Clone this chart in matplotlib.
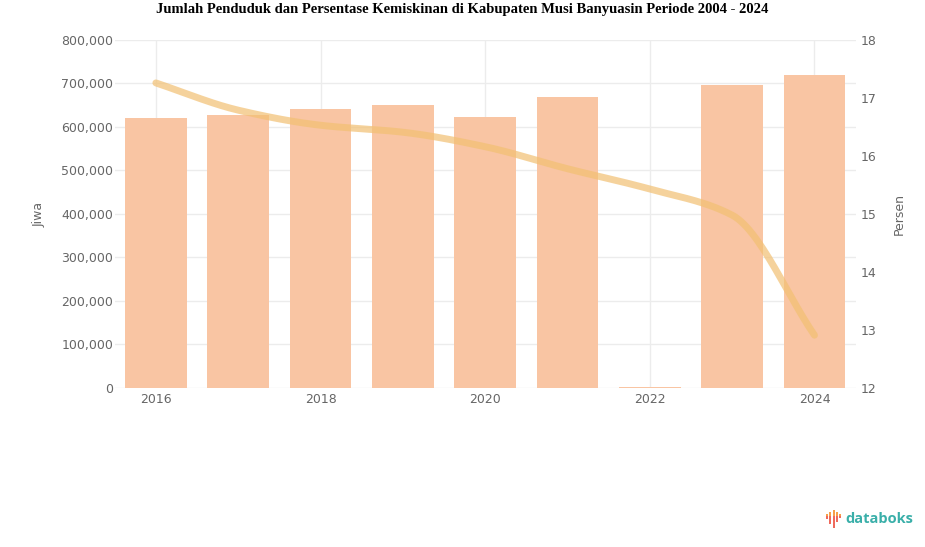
import matplotlib
matplotlib.use("Agg")
import matplotlib.pyplot as plt
import numpy as np
from matplotlib.ticker import FuncFormatter
from matplotlib.patches import Rectangle

years = [2016, 2017, 2018, 2019, 2020, 2021, 2022, 2023, 2024]
penduduk = [620000, 628000, 641000, 650000, 622000, 668000, 3000, 697000, 720000]
kemiskinan = [17.26, 16.79, 16.53, 16.41, 16.16, 15.78, 15.43, 14.98, 12.91]
xtick_labels = ["2016", "2018", "2020", "2022", "2024"]

title = "Jumlah Penduduk dan Persentase Kemiskinan di Kabupaten Musi Banyuasin Periode 2004 - 2024"

fig = plt.figure(figsize=(9.25, 5.47), dpi=100)
ax = fig.add_axes([0.124, 0.2907, 0.801, 0.6362])
ax2 = ax.twinx()

x = np.arange(len(years))
ax.bar(x, penduduk, width=0.75, color="#f9c5a3", zorder=2)
ax.set_xlim(-0.5, len(years) - 0.5)
ax.set_ylim(0, 800000)
ax.set_yticks(np.arange(0, 800001, 100000))
ax.yaxis.set_major_formatter(FuncFormatter(lambda v, p: f"{int(v):,}"))
tick_pos = [years.index(int(t)) for t in xtick_labels]
ax.set_xticks(tick_pos)
ax.set_xticklabels(xtick_labels)
ax.grid(True, color="#ececec", linewidth=1, zorder=0)
ax.set_axisbelow(True)
for a in (ax, ax2):
    for s in a.spines.values():
        s.set_visible(False)
    a.tick_params(length=0, labelsize=9, colors="#666666")
ax.tick_params(axis="y", pad=1)
ax.set_ylabel("Jiwa", fontsize=9, color="#666666")
ax.yaxis.set_label_coords(-0.093, 0.5)

# monotone cubic curve through the data points (Fritsch-Carlson)
xs = x.astype(float)
ys = np.array(kemiskinan, dtype=float)
d = np.diff(ys) / np.diff(xs)
m = np.zeros_like(ys)
m[0], m[-1] = d[0], d[-1]
for i in range(1, len(ys) - 1):
    if d[i-1] * d[i] <= 0:
        m[i] = 0
    else:
        m[i] = 2 / (1/d[i-1] + 1/d[i])
cx, cy = [], []
t = np.linspace(0, 1, 30)
for i in range(len(xs) - 1):
    h = xs[i+1] - xs[i]
    h00 = 2*t**3 - 3*t**2 + 1
    h10 = t**3 - 2*t**2 + t
    h01 = -2*t**3 + 3*t**2
    h11 = t**3 - t**2
    cx.extend(xs[i] + t*h)
    cy.extend(h00*ys[i] + h10*h*m[i] + h01*ys[i+1] + h11*h*m[i+1])
ax2.plot(cx, cy, color="#f2c072", linewidth=5, alpha=0.7, solid_capstyle="round", zorder=3)
ax2.set_ylim(12, 18)
ax2.set_yticks(np.arange(12, 18.1, 1))
ax2.set_ylabel("Persen", fontsize=9, color="#666666")
ax2.yaxis.set_label_coords(1.05, 0.5)

fig.text(0.5, 0.982, title, ha="center", va="center", fontsize=10.5,
         fontweight="bold", family="Liberation Serif")

# databoks logo (waveform icon + wordmark), in pixel coordinates
up = [2, 4, 6, 4, 2]
down = [3, 8, 12, 6, 2]
for i, (u, dn) in enumerate(zip(up, down)):
    xp = 826 + i * 3.3
    yc = 547 - 516
    fig.patches.append(Rectangle((xp, yc), 2, u, transform=None,
                                 facecolor="#f7a04a", edgecolor="none"))
    fig.patches.append(Rectangle((xp, yc - dn), 2, dn, transform=None,
                                 facecolor="#ef6a5c", edgecolor="none"))
fig.text(845/925, 1 - 519/547, "databoks", fontsize=10.5, color="#3aafa9",
         ha="left", va="center", fontweight="bold", family="Open Sans")

fig.savefig("out.png", dpi=100)
